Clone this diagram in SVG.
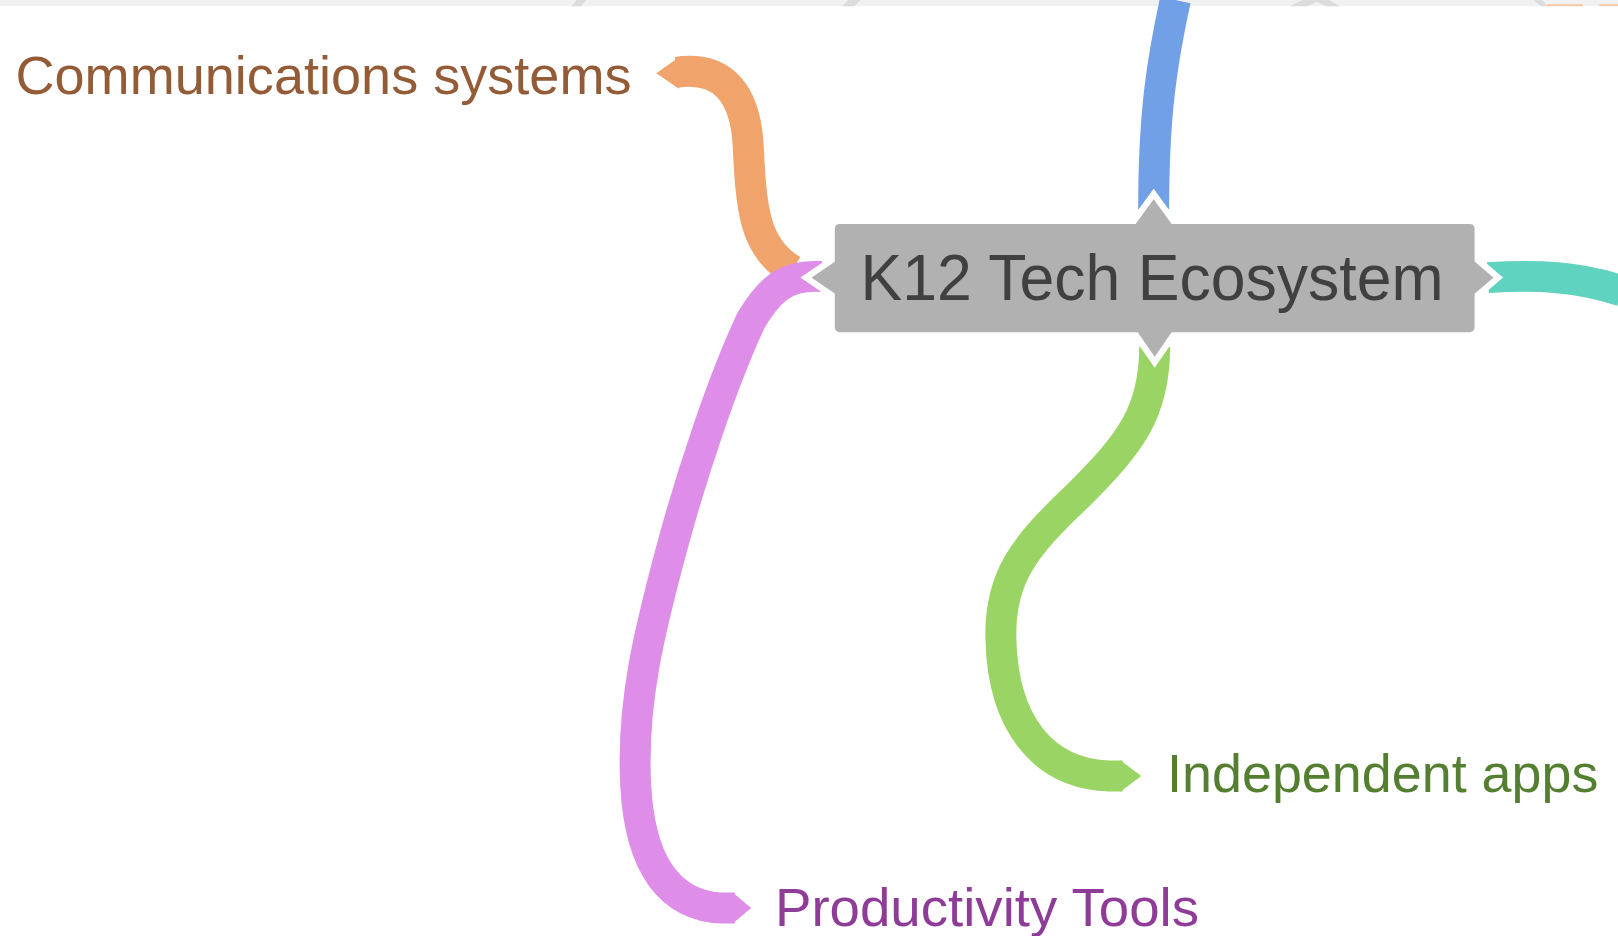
<svg xmlns="http://www.w3.org/2000/svg" width="1618" height="936" viewBox="0 0 1618 936">
<style>
.band{fill:none;stroke-width:30;stroke-linecap:butt;stroke-linejoin:round}
.lbl{font-family:"Liberation Sans",Arial,sans-serif;font-size:52px}
.frag{fill:#dcdcdc}
</style>
<rect x="0" y="0" width="1618" height="936" fill="#ffffff"/>
<g transform="scale(1.03189)">
<g id="top-strip">
<rect x="0" y="0" width="1568" height="6" fill="#f1f1f1"/>
<polygon class="frag" points="554,6 559,0 568,0 563,6"/>
<polygon class="frag" points="816,6 822,0 834,0 828,6"/>
<polygon class="frag" points="1250,6 1262,0 1288,0 1298,6 1285,6 1276,2 1266,6"/>
<polygon class="frag" points="1486,0 1494,0 1500,6 1493,6"/>
<rect x="1499" y="4" width="35" height="2" fill="#f6c9a6"/>
<rect x="1550" y="4" width="18" height="2" fill="#f6c9a6"/>
</g>
<g id="connectors">
<path id="c-blue" class="band" stroke="#72a0e6" d="M 1139 0 C 1126 60 1118 110 1118 203"/>
<path id="c-teal" class="band" stroke="#5fd3bf" d="M 1442 269 C 1490 266 1530 268 1572 282"/>
<g id="c-orange">
<path class="band" stroke="#f0a36a" d="M 656 70 C 700 64 722 90 725 140 C 728 200 730 240 768 262"/>
<polygon fill="#f0a36a" points="660,54 636,71 658,86"/>
</g>
<g id="c-purple">
<path class="band" stroke="#de8de8" d="M 796 268 C 760 266 745 282 728 310 C 700 370 670 460 650 535 C 630 610 612 680 616 760 C 620 840 650 878 700 880 L 712 880"/>
<polygon fill="#de8de8" points="710,865 728,880 710,895"/>
</g>
<g id="c-green">
<path class="band" stroke="#99d464" d="M 1119 336 C 1119 400 1095 430 1045 480 C 992 530 968 560 970 620 C 972 700 1010 750 1075 752 L 1088 752"/>
<polygon fill="#99d464" points="1086,737 1106,752 1086,767"/>
</g>
</g>
<g id="node-center">
<path d="M 814 214 H 1099 L 1118 188 L 1137 214 H 1424 Q 1432 214 1432 222 V 252 L 1452 269 L 1432 286 V 317 Q 1432 325 1424 325 H 1137 L 1119 351 L 1101 325 H 814 Q 806 325 806 317 V 286 L 781 269 L 806 252 V 222 Q 806 214 814 214 Z" fill="#b1b1b1" stroke="#ffffff" stroke-width="6" stroke-linejoin="miter"/>
<text x="834" y="291" font-family="Liberation Sans, Arial, sans-serif" font-size="62" fill="#404040" textLength="565" lengthAdjust="spacingAndGlyphs">K12 Tech Ecosystem</text>
</g>
<g id="node-communications">
<text class="lbl" x="15" y="91" fill="#935c37" textLength="597" lengthAdjust="spacingAndGlyphs">Communications systems</text>
</g>
<g id="node-independent">
<text class="lbl" x="1131" y="768" fill="#547f31" textLength="418" lengthAdjust="spacingAndGlyphs">Independent apps</text>
</g>
<g id="node-productivity">
<text class="lbl" x="751" y="897" fill="#8f3c99" textLength="411" lengthAdjust="spacingAndGlyphs">Productivity Tools</text>
</g>
</g>
</svg>
